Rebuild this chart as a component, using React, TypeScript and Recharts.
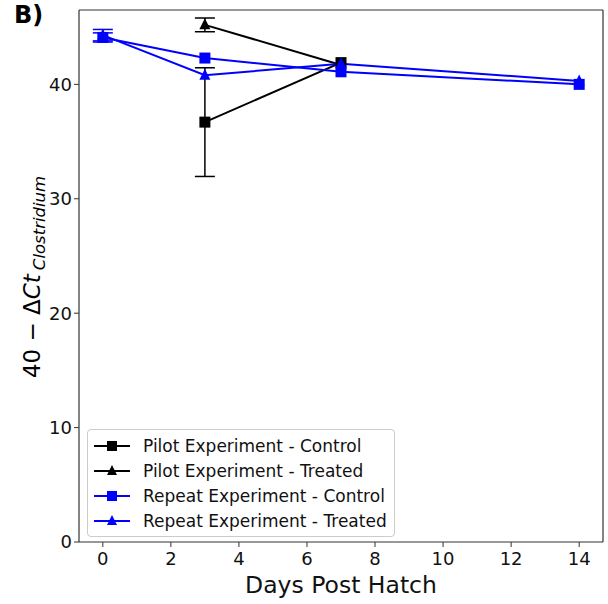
import React from 'react';
import { LineChart, Line, XAxis, YAxis, ErrorBar, ReferenceLine } from 'recharts';

const days = [0, 3, 7, 14];
const pilotDays = [3, 7];

const pilotControl = [36.7, 41.9];
const pilotControlErr = [4.75, null];
const pilotTreated = [45.2, 41.7];
const pilotTreatedErr = [0.6, null];

const repeatControl = [44.1, 42.3, 41.1, 40.0];
const repeatControlErr = [0.4, null, null, null];
const repeatTreated = [44.3, 40.8, 41.8, 40.3];
const repeatTreatedErr = [0.5, null, null, null];

const xTicks = [0, 2, 4, 6, 8, 10, 12, 14];
const yTicks = [0, 10, 20, 30, 40];

const seriesNames = [
  'Pilot Experiment - Control',
  'Pilot Experiment - Treated',
  'Repeat Experiment - Control',
  'Repeat Experiment - Treated',
];

const X_DOMAIN = [-0.7, 14.7];
const Y_DOMAIN = [0, 46.5];

const BLACK = '#000000';
const BLUE = '#0000ff';
const FONT = 'DejaVu Sans, sans-serif';
const FRAME = '#333333';

const toRows = (xs: number[], ys: number[], es: (number | null)[]) =>
  xs.map((x, i) => ({ x, y: ys[i], err: es[i] }));

const series = [
  { name: seriesNames[0], data: toRows(pilotDays, pilotControl, pilotControlErr), color: BLACK, shape: 'square' },
  { name: seriesNames[1], data: toRows(pilotDays, pilotTreated, pilotTreatedErr), color: BLACK, shape: 'triangle' },
  { name: seriesNames[2], data: toRows(days, repeatControl, repeatControlErr), color: BLUE, shape: 'square' },
  { name: seriesNames[3], data: toRows(days, repeatTreated, repeatTreatedErr), color: BLUE, shape: 'triangle' },
];

const Marker = ({ cx, cy, color, shape, size = 11 }: any) => {
  if (cx == null || cy == null) return null;
  const h = size / 2;
  if (shape === 'square') {
    return <rect x={cx - h} y={cy - h} width={size} height={size} fill={color} />;
  }
  return (
    <polygon
      points={`${cx},${cy - h - 1} ${cx - h},${cy + h - 1} ${cx + h},${cy + h - 1}`}
      fill={color}
    />
  );
};

const makeDot = (color: string, shape: string) => (props: any) => (
  <Marker key={`d-${props.index}`} cx={props.cx} cy={props.cy} color={color} shape={shape} />
);

const YLabel = () => (
  <text
    transform="translate(40, 277) rotate(-90)"
    textAnchor="middle"
    fontFamily={FONT}
    fill="#000"
  >
    <tspan fontSize={23}>40 − Δ</tspan>
    <tspan fontSize={23} fontStyle="italic">Ct</tspan>
    <tspan fontSize={16.5} fontStyle="italic" dx={4} dy={5}>Clostridium</tspan>
  </text>
);

const LegendBox = () => (
  <div
    style={{
      position: 'absolute',
      left: 87,
      top: 429,
      border: '1px solid #cccccc',
      borderRadius: 4,
      background: 'rgba(255,255,255,0.8)',
      padding: '3px 7px 3px 5px',
      fontFamily: FONT,
      fontSize: 17,
      color: '#111',
    }}
  >
    {series.map((s) => (
      <div key={s.name} style={{ display: 'flex', alignItems: 'center', height: 25 }}>
        <svg width={38} height={20} style={{ marginRight: 12 }}>
          <line x1={1} y1={10} x2={37} y2={10} stroke={s.color} strokeWidth={2} />
          <Marker cx={19} cy={10} color={s.color} shape={s.shape} size={10} />
        </svg>
        <span>{s.name}</span>
      </div>
    ))}
  </div>
);

export default function App() {
  return (
    <div style={{ position: 'absolute', left: 0, top: 0, width: 608, height: 604, background: '#fff' }}>
      <LineChart width={608} height={604} margin={{ top: 10, right: 5, bottom: 0, left: 0 }}>
        <XAxis
          type="number"
          dataKey="x"
          domain={X_DOMAIN}
          ticks={xTicks}
          allowDataOverflow
          height={62}
          tick={{ fontSize: 18, fill: '#111', fontFamily: FONT, dy: 3 }}
          tickLine={{ stroke: FRAME }}
          tickSize={5}
          axisLine={{ stroke: FRAME, strokeWidth: 1.2 }}
          label={{ value: 'Days Post Hatch', position: 'insideBottom', offset: 11, fontSize: 23.5, fill: '#111', fontFamily: FONT }}
        />
        <YAxis
          type="number"
          domain={Y_DOMAIN}
          ticks={yTicks}
          allowDataOverflow
          width={79}
          tick={{ fontSize: 18, fill: '#111', fontFamily: FONT }}
          tickLine={{ stroke: FRAME }}
          tickSize={5}
          axisLine={{ stroke: FRAME, strokeWidth: 1.2 }}
          label={<YLabel />}
        />
        <ReferenceLine y={Y_DOMAIN[1]} stroke={FRAME} strokeWidth={1.2} />
        <ReferenceLine x={X_DOMAIN[1]} stroke={FRAME} strokeWidth={1.2} />
        {series.map((s) => (
          <Line
            key={s.name}
            name={s.name}
            data={s.data}
            dataKey="y"
            stroke={s.color}
            strokeWidth={2}
            dot={makeDot(s.color, s.shape)}
            activeDot={false}
            isAnimationActive={false}
          >
            <ErrorBar dataKey="err" direction="y" width={10} stroke={s.color} strokeWidth={1.5} />
          </Line>
        ))}
      </LineChart>
      <LegendBox />
      <div style={{ position: 'absolute', left: 14, top: 1, fontFamily: FONT, fontWeight: 'bold', fontSize: 24, lineHeight: '28px' }}>
        B)
      </div>
    </div>
  );
}
